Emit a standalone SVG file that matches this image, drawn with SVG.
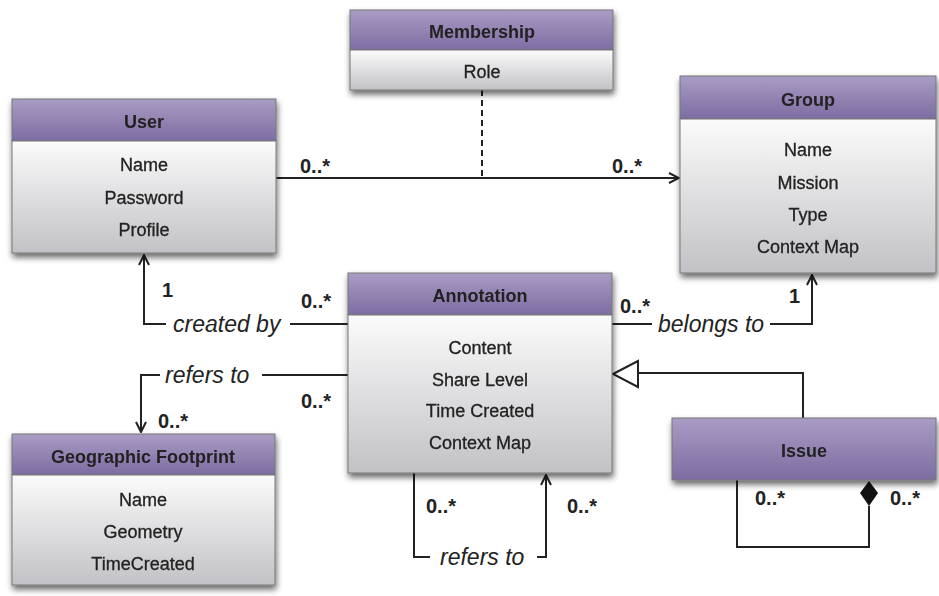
<svg xmlns="http://www.w3.org/2000/svg" width="939" height="596" viewBox="0 0 939 596">
<style>
.t{font-family:"Liberation Sans",Arial,sans-serif;font-size:18px;fill:#222;text-anchor:middle;stroke:#222;stroke-width:0.3}
.h{font-weight:bold;stroke-width:0}
.m{font-family:"Liberation Sans",Arial,sans-serif;font-size:20px;font-weight:bold;fill:#222}
.l{font-family:"Liberation Sans",Arial,sans-serif;font-size:23px;font-style:italic;fill:#222}
.hd{fill:url(#ph);stroke:#777;stroke-width:1}
.bd{fill:url(#gb);stroke:#777;stroke-width:1}
.ln{fill:none;stroke:#222;stroke-width:2}
</style>
<defs>
<linearGradient id="ph" x1="0" y1="0" x2="0" y2="1"><stop offset="0" stop-color="#a99cc4"/><stop offset="1" stop-color="#7d6ca2"/></linearGradient>
<linearGradient id="gb" x1="0" y1="0" x2="0" y2="1"><stop offset="0" stop-color="#fbfbfb"/><stop offset="1" stop-color="#c2c2c6"/></linearGradient>
<filter id="sh" x="-10%" y="-10%" width="120%" height="130%"><feGaussianBlur in="SourceAlpha" stdDeviation="3"/><feOffset dx="1" dy="4"/><feComponentTransfer><feFuncA type="linear" slope="0.6"/></feComponentTransfer><feMerge><feMergeNode/><feMergeNode in="SourceGraphic"/></feMerge></filter>
<marker id="ar" viewBox="0 0 12 12" refX="11" refY="6" markerWidth="12" markerHeight="12" markerUnits="userSpaceOnUse" orient="auto"><path d="M1,1 L11,6 L1,11" fill="none" stroke="#222" stroke-width="2"/></marker>
</defs>
<rect width="939" height="596" fill="#fff"/>

<g id="connectors">
<path class="ln" d="M276,178 H679" marker-end="url(#ar)"/>
<path class="ln" d="M482,90 V178" stroke-dasharray="6,4"/>
<path class="ln" d="M348,324 H290 M166,324 H144 V255" marker-end="url(#ar)"/>
<path class="ln" d="M348,375 H262 M160,375 H141 V432" marker-end="url(#ar)"/>
<path class="ln" d="M612,324 H652 M770,324 H812 V275" marker-end="url(#ar)"/>
<path class="ln" d="M803,418 V373 H638"/>
<path d="M613,374 L638,361 L638,387 Z" fill="#fff" stroke="#222" stroke-width="2"/>
<path class="ln" d="M414,473 V557 H430 M537,557 H546 V475" marker-end="url(#ar)"/>
<path class="ln" d="M737,480 V547 H869 V506"/>
<path d="M869,481 L878,493 L869,506 L860,493 Z" fill="#111"/>
<text class="m" x="300" y="173">0..*</text>
<text class="m" x="612" y="173">0..*</text>
<text class="m" x="162" y="297">1</text>
<text class="l" x="173" y="332">created by</text>
<text class="m" x="301" y="308">0..*</text>
<text class="l" x="165" y="383">refers to</text>
<text class="m" x="301" y="408">0..*</text>
<text class="m" x="158" y="428">0..*</text>
<text class="m" x="620" y="313">0..*</text>
<text class="l" x="658" y="332">belongs to</text>
<text class="m" x="789" y="303">1</text>
<text class="m" x="426" y="513">0..*</text>
<text class="m" x="567" y="513">0..*</text>
<text class="l" x="440" y="565">refers to</text>
<text class="m" x="755" y="505">0..*</text>
<text class="m" x="890" y="505">0..*</text>
</g>

<g id="membership" filter="url(#sh)">
<rect class="hd" x="350" y="10" width="263" height="40"/>
<rect class="bd" x="350" y="50" width="263" height="40"/>
<text class="t h" x="482" y="38">Membership</text>
<text class="t" x="482" y="78">Role</text>
</g>

<g id="user" filter="url(#sh)">
<rect class="hd" x="12" y="99" width="264" height="42"/>
<rect class="bd" x="12" y="141" width="264" height="112"/>
<text class="t h" x="144" y="128">User</text>
<text class="t" x="144" y="171">Name</text>
<text class="t" x="144" y="204">Password</text>
<text class="t" x="144" y="236">Profile</text>
</g>

<g id="group" filter="url(#sh)">
<rect class="hd" x="680" y="76" width="256" height="43"/>
<rect class="bd" x="680" y="119" width="256" height="154"/>
<text class="t h" x="808" y="106">Group</text>
<text class="t" x="808" y="156">Name</text>
<text class="t" x="808" y="189">Mission</text>
<text class="t" x="808" y="221">Type</text>
<text class="t" x="808" y="253">Context Map</text>
</g>

<g id="annotation" filter="url(#sh)">
<rect class="hd" x="348" y="273" width="264" height="42"/>
<rect class="bd" x="348" y="315" width="264" height="158"/>
<text class="t h" x="480" y="302">Annotation</text>
<text class="t" x="480" y="354">Content</text>
<text class="t" x="480" y="386">Share Level</text>
<text class="t" x="480" y="417">Time Created</text>
<text class="t" x="480" y="449">Context Map</text>
</g>

<g id="geographic-footprint" filter="url(#sh)">
<rect class="hd" x="12" y="434" width="263" height="41"/>
<rect class="bd" x="12" y="475" width="263" height="110"/>
<text class="t h" x="143" y="463">Geographic Footprint</text>
<text class="t" x="143" y="506">Name</text>
<text class="t" x="143" y="538">Geometry</text>
<text class="t" x="143" y="570">TimeCreated</text>
</g>

<g id="issue" filter="url(#sh)">
<rect class="hd" x="672" y="418" width="264" height="62"/>
<text class="t h" x="804" y="457">Issue</text>
</g>
</svg>
